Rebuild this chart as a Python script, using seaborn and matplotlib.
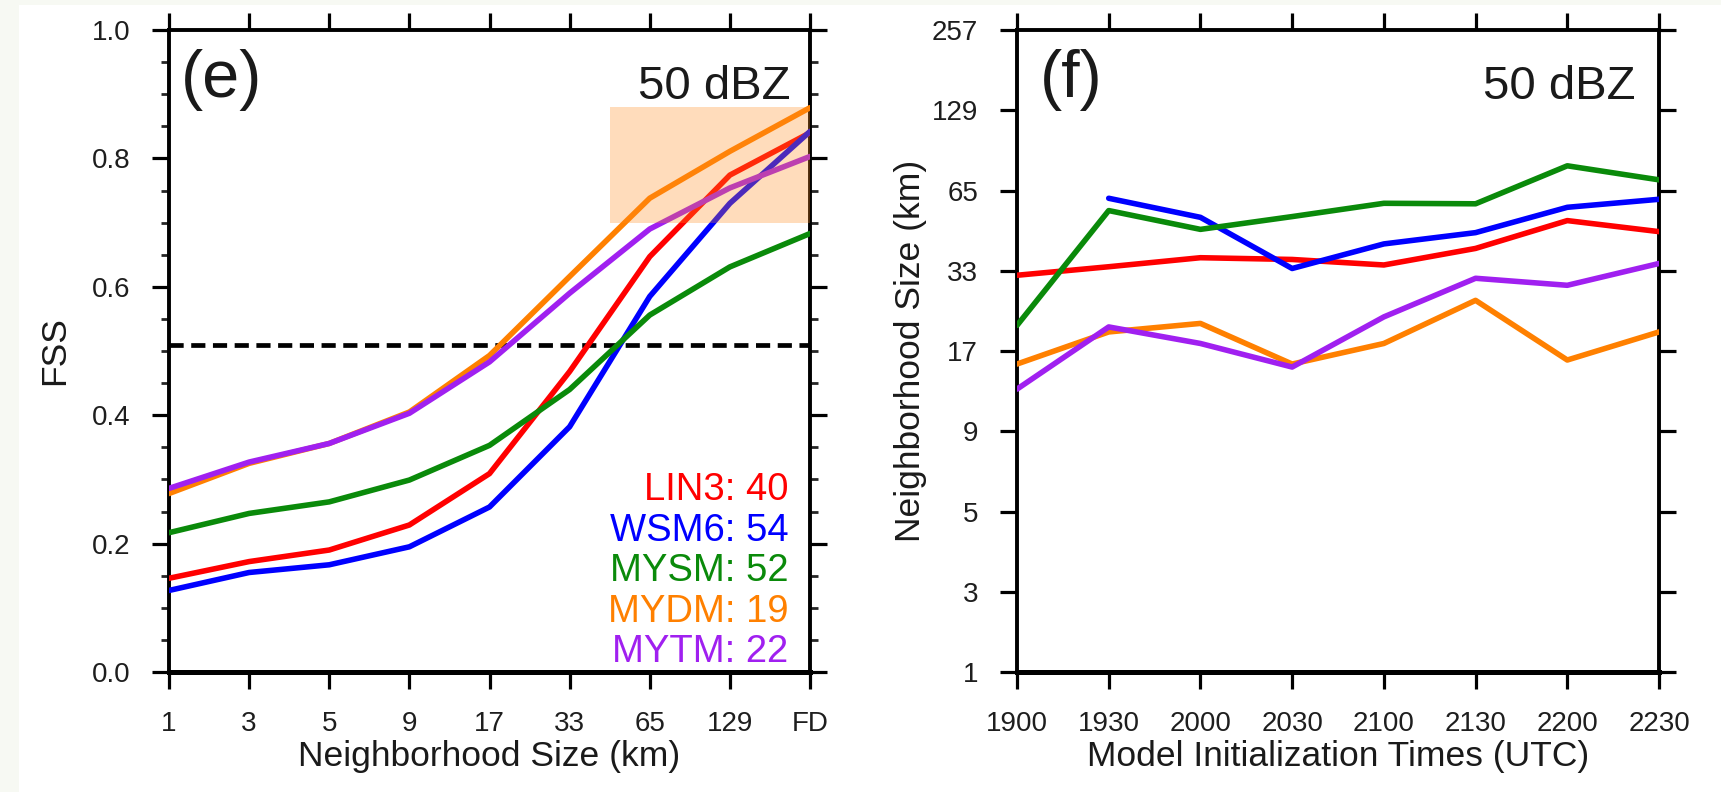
import numpy as np
import pandas as pd
import matplotlib
matplotlib.use("Agg")
import matplotlib.pyplot as plt
from matplotlib.patches import Rectangle
from matplotlib.ticker import MultipleLocator, FixedLocator
import seaborn as sns

# ---------------------------------------------------------------- data
schemes = ["LIN3", "WSM6", "MYSM", "MYDM", "MYTM"]
scheme_colors = ["#FF0000", "#0000FF", "#0A8A0A", "#FF8000", "#A020F0"]

# (e) fractions skill score versus neighborhood size
neighborhood_labels = ["1", "3", "5", "9", "17", "33", "65", "129", "FD"]
fss_lin3 = [0.146, 0.172, 0.190, 0.229, 0.309, 0.468, 0.647, 0.774, 0.840]
fss_wsm6 = [0.127, 0.155, 0.167, 0.195, 0.257, 0.382, 0.585, 0.730, 0.842]
fss_mysm = [0.217, 0.247, 0.265, 0.299, 0.353, 0.440, 0.556, 0.631, 0.683]
fss_mydm = [0.278, 0.325, 0.356, 0.405, 0.493, 0.616, 0.738, 0.811, 0.879]
fss_mytm = [0.286, 0.327, 0.356, 0.403, 0.483, 0.590, 0.690, 0.754, 0.803]
useful_fss = 0.51
useful_scale_km = [40, 54, 52, 19, 22]
highlight_x = [5.51, 8.0]      # neighborhood index range of shaded box
highlight_fss = [0.70, 0.88]   # FSS range of shaded box

# (f) useful neighborhood size per model initialization time
init_times = ["1900", "1930", "2000", "2030", "2100", "2130", "2200", "2230"]
size_lin3 = [32.1, 34.6, 38.2, 37.5, 35.3, 41.9, 53.0, 48.6]
size_wsm6 = [np.nan, 61.9, 54.3, 33.9, 43.7, 48.2, 58.3, 61.5]
size_mysm = [22.1, 57.0, 49.5, 54.6, 59.9, 59.7, 84.7, 73.5]
size_mydm = [15.7, 20.8, 22.5, 15.7, 18.5, 27.1, 16.1, 20.8]
size_mytm = [13.2, 21.8, 18.5, 15.4, 23.8, 31.5, 30.1, 35.9]
size_ticks = [1, 3, 5, 9, 17, 33, 65, 129, 257]

fss_series = [fss_lin3, fss_wsm6, fss_mysm, fss_mydm, fss_mytm]
size_series = [size_lin3, size_wsm6, size_mysm, size_mydm, size_mytm]

df_fss = pd.DataFrame(
    [(s, i, v) for s, vals in zip(schemes, fss_series) for i, v in enumerate(vals)],
    columns=["scheme", "nbhd", "fss"],
)
df_size = pd.DataFrame(
    [(s, i, v) for s, vals in zip(schemes, size_series) for i, v in enumerate(vals)],
    columns=["scheme", "time", "size"],
)
palette = dict(zip(schemes, scheme_colors))

# ---------------------------------------------------------------- style
sns.set_theme(style="ticks")
plt.rcParams["font.family"] = ["Liberation Sans", "DejaVu Sans"]
plt.rcParams["axes.linewidth"] = 2.8
plt.rcParams["axes.edgecolor"] = "black"
plt.rcParams["text.color"] = "#1a1a1a"

fig = plt.figure(figsize=(17.21, 7.92), dpi=100)
fig.patch.set_facecolor("white")
# thin pale frame along the left and top edges of the page
fig.patches.append(Rectangle((0, 0), 19 / 1721, 1, transform=fig.transFigure,
                             facecolor="#F7F9F3", edgecolor="none", zorder=0))
fig.patches.append(Rectangle((0, 1 - 5 / 792), 1, 5 / 792, transform=fig.transFigure,
                             facecolor="#F7F9F3", edgecolor="none", zorder=0))

ax_e = fig.add_axes([169 / 1721, 1 - 672 / 792, 641 / 1721, 642 / 792])
ax_f = fig.add_axes([1017 / 1721, 1 - 672 / 792, 642 / 1721, 642 / 792])

LW = 4.0
TICK_KW = dict(direction="out", top=True, right=True, labeltop=False,
               labelright=False, labelsize=20, labelcolor="#1e1e1e",
               color="black", pad=16)


def style_axis(ax):
    ax.tick_params(which="major", length=12, width=2.3, **TICK_KW)
    ax.tick_params(which="minor", length=6, width=2.0, direction="out",
                   top=False, right=True, bottom=False)
    for side in ["left", "right", "top"]:
        ax.spines[side].set_linewidth(2.8)
    ax.spines["bottom"].set_linewidth(3.6)
    ax.grid(False)
    ax.set_facecolor("white")


# ---------------------------------------------------------------- panel (e)
sns.lineplot(data=df_fss, x="nbhd", y="fss", hue="scheme", hue_order=schemes,
             palette=palette, linewidth=LW, legend=False, sort=False,
             ax=ax_e, zorder=3)
ax_e.axhline(useful_fss, color="black", linewidth=3.4,
             linestyle=(0, (3.0, 1.6)), zorder=2)
ax_e.add_patch(Rectangle((highlight_x[0], highlight_fss[0]),
                         highlight_x[1] - highlight_x[0],
                         highlight_fss[1] - highlight_fss[0],
                         facecolor="#FF8C1E", alpha=0.30, edgecolor="none",
                         zorder=4))
ax_e.set_xlim(0, len(neighborhood_labels) - 1)
ax_e.set_ylim(0, 1.0)
ax_e.xaxis.set_major_locator(FixedLocator(range(len(neighborhood_labels))))
ax_e.set_xticklabels(neighborhood_labels)
ax_e.yaxis.set_major_locator(MultipleLocator(0.2))
ax_e.yaxis.set_minor_locator(MultipleLocator(0.05))
ax_e.yaxis.set_major_formatter(matplotlib.ticker.FormatStrFormatter("%.1f"))
style_axis(ax_e)
ax_e.set_xlabel("Neighborhood Size (km)", fontsize=25.5, color="#1a1a1a")
ax_e.set_ylabel("FSS", fontsize=25.5, color="#1a1a1a")
ax_e.xaxis.set_label_coords(0.5, -0.106)
ax_e.yaxis.set_label_coords(-0.152, 0.5)

ax_e.text(0.019, 0.896, "(e)", transform=ax_e.transAxes, fontsize=48,
          ha="left", va="baseline", zorder=6)
ax_e.text(0.969, 0.8925, "50 dBZ", transform=ax_e.transAxes, fontsize=34,
          ha="right", va="baseline", zorder=6)
for k, (name, col, val) in enumerate(zip(schemes, scheme_colors, useful_scale_km)):
    ax_e.text(0.966, 0.268 - 0.0633 * k, f"{name}: {val}",
              transform=ax_e.transAxes, fontsize=27.5, color=col,
              ha="right", va="baseline", zorder=6)

# ---------------------------------------------------------------- panel (f)
tick_idx = np.arange(len(size_ticks), dtype=float)


def size_to_idx(v):
    return np.interp(v, size_ticks, tick_idx)


def idx_to_size(i):
    return np.interp(i, tick_idx, size_ticks)


sns.lineplot(data=df_size, x="time", y="size", hue="scheme", hue_order=schemes,
             palette=palette, linewidth=LW, legend=False, sort=False,
             ax=ax_f, zorder=3)
ax_f.set_yscale("function", functions=(size_to_idx, idx_to_size))
ax_f.set_ylim(size_ticks[0], size_ticks[-1])
ax_f.set_xlim(0, len(init_times) - 1)
ax_f.xaxis.set_major_locator(FixedLocator(range(len(init_times))))
ax_f.set_xticklabels(init_times)
ax_f.yaxis.set_major_locator(FixedLocator(size_ticks))
ax_f.yaxis.set_minor_locator(matplotlib.ticker.NullLocator())
ax_f.set_yticklabels([str(t) for t in size_ticks])
style_axis(ax_f)
ax_f.set_xlabel("Model Initialization Times (UTC)", fontsize=25.5, color="#1a1a1a")
ax_f.set_ylabel("Neighborhood Size (km)", fontsize=25.5, color="#1a1a1a")
ax_f.xaxis.set_label_coords(0.5, -0.106)
ax_f.yaxis.set_label_coords(-0.14, 0.5)

ax_f.text(0.036, 0.896, "(f)", transform=ax_f.transAxes, fontsize=48,
          ha="left", va="baseline", zorder=6)
ax_f.text(0.963, 0.8925, "50 dBZ", transform=ax_f.transAxes, fontsize=34,
          ha="right", va="baseline", zorder=6)

fig.savefig("out.png", dpi=100, facecolor=fig.get_facecolor())
